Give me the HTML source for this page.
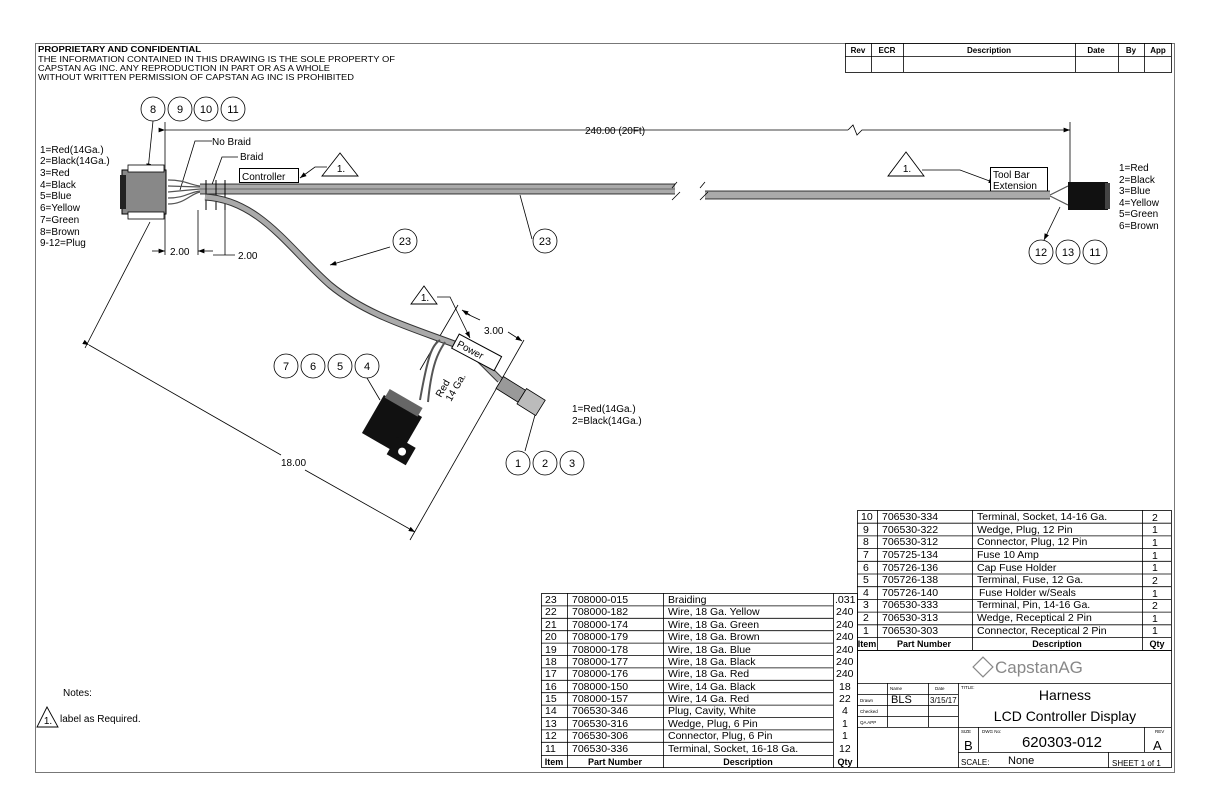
<!DOCTYPE html>
<html><head><meta charset="utf-8"><style>
html,body{margin:0;padding:0;background:#fff}
svg{display:block}
text{font-family:"Liberation Sans",sans-serif;fill:#000}
</style></head><body>
<svg width="1224" height="792" viewBox="0 0 1224 792" xmlns="http://www.w3.org/2000/svg">
<defs><marker id="a" markerWidth="8" markerHeight="6" refX="8" refY="3" orient="auto"><path d="M0,0L8,3L0,6z" fill="#000"/></marker></defs>
<rect x="35.5" y="43.5" width="1139" height="729" fill="none" stroke="#777" stroke-width="1"/>
<!-- header text -->
<text x="38" y="52" font-size="8" font-weight="bold" textLength="163" lengthAdjust="spacingAndGlyphs">PROPRIETARY AND CONFIDENTIAL</text>
<text x="38" y="62" font-size="8.5" textLength="357" lengthAdjust="spacingAndGlyphs">THE INFORMATION CONTAINED IN THIS DRAWING IS THE SOLE PROPERTY OF</text>
<text x="38" y="71" font-size="8.5" textLength="292" lengthAdjust="spacingAndGlyphs">CAPSTAN AG INC. ANY REPRODUCTION IN PART OR AS A WHOLE</text>
<text x="38" y="80" font-size="8.5" textLength="316" lengthAdjust="spacingAndGlyphs">WITHOUT WRITTEN PERMISSION OF CAPSTAN AG INC IS PROHIBITED</text>
<!-- rev table -->
<g stroke="#000" stroke-width="0.8" fill="none">
<rect x="845.5" y="43.5" width="326" height="29"/>
<line x1="845" y1="56.5" x2="1171" y2="56.5"/>
<line x1="871.5" y1="43" x2="871.5" y2="72"/><line x1="903.5" y1="43" x2="903.5" y2="72"/>
<line x1="1075.5" y1="43" x2="1075.5" y2="72"/><line x1="1118.5" y1="43" x2="1118.5" y2="72"/><line x1="1144.5" y1="43" x2="1144.5" y2="72"/>
</g>
<g font-size="8" font-weight="bold" text-anchor="middle">
<text x="858" y="53">Rev</text><text x="887" y="53">ECR</text><text x="989" y="53">Description</text><text x="1096" y="53">Date</text><text x="1131" y="53">By</text><text x="1158" y="53">App</text></g>
<!-- balloons -->
<g fill="#fff" stroke="#000" stroke-width="0.8">
<circle cx="153" cy="109" r="12"/><circle cx="180" cy="109" r="12"/><circle cx="206" cy="109" r="12"/><circle cx="233" cy="109" r="12"/>
<circle cx="1041" cy="252" r="12"/><circle cx="1068" cy="252" r="12"/><circle cx="1095" cy="252" r="12"/>
<circle cx="286" cy="366" r="12"/><circle cx="313" cy="366" r="12"/><circle cx="340" cy="366" r="12"/><circle cx="367" cy="366" r="12"/>
<circle cx="518" cy="463" r="12"/><circle cx="545" cy="463" r="12"/><circle cx="572" cy="463" r="12"/>
<circle cx="405" cy="241" r="12"/><circle cx="545" cy="241" r="12"/>
</g>
<g font-size="11" text-anchor="middle">
<text x="153" y="113">8</text><text x="180" y="113">9</text><text x="206" y="113">10</text><text x="233" y="113">11</text>
<text x="1041" y="256">12</text><text x="1068" y="256">13</text><text x="1095" y="256">11</text>
<text x="286" y="370">7</text><text x="313" y="370">6</text><text x="340" y="370">5</text><text x="367" y="370">4</text>
<text x="518" y="467">1</text><text x="545" y="467">2</text><text x="572" y="467">3</text>
<text x="405" y="245">23</text><text x="545" y="245">23</text>
</g>
<!-- dimension 240 -->
<g stroke="#000" stroke-width="0.8" fill="none">
<line x1="165" y1="122" x2="165" y2="200"/>
<line x1="165" y1="130" x2="848" y2="130" marker-start="url(#a)"/>
<polyline points="848,130 853,125 857,135 862,130 1070,130" marker-end="url(#a)"/>
<line x1="1070" y1="122" x2="1070" y2="185"/>
<line x1="153" y1="121" x2="148" y2="170" marker-end="url(#a)"/>
<line x1="1060" y1="207" x2="1044" y2="240" marker-end="url(#a)"/>
<line x1="165" y1="210" x2="165" y2="255"/><line x1="198" y1="210" x2="198" y2="255"/><line x1="225" y1="210" x2="225" y2="255"/>
<line x1="152" y1="251" x2="165" y2="251" marker-end="url(#a)"/>
<line x1="213" y1="251" x2="198" y2="251" marker-end="url(#a)"/>
<line x1="213" y1="255" x2="235" y2="255"/>
<polyline points="212,141 195,141 180,190"/>
<polyline points="238,157 222,157 210,190"/>
<polyline points="327,167 315,167 300,178" marker-end="url(#a)"/>
<polyline points="922,170 960,170 995,183" marker-end="url(#a)"/>
<line x1="390" y1="247" x2="330" y2="265" marker-end="url(#a)"/>
<line x1="532" y1="239" x2="520" y2="195"/>
<polyline points="437,297 450,297 470,338" marker-end="url(#a)"/>
<line x1="367" y1="378" x2="380" y2="400"/>
<line x1="525" y1="451" x2="535" y2="415"/>
<line x1="150" y1="222" x2="85" y2="348"/>
<line x1="89" y1="345" x2="281" y2="455" marker-start="url(#a)"/>
<line x1="305" y1="470" x2="415" y2="532" marker-end="url(#a)"/>
<line x1="524" y1="340" x2="410" y2="540"/>
<line x1="458" y1="305" x2="420" y2="370"/>
<line x1="465" y1="313" x2="480" y2="320"/>
<line x1="508" y1="332" x2="522" y2="341" marker-end="url(#a)"/>
<line x1="470" y1="315" x2="462" y2="310" marker-end="url(#a)"/>
</g>
<text x="585" y="134" font-size="10">240.00 (20Ft)</text>
<text x="170" y="255" font-size="10">2.00</text><text x="238" y="259" font-size="10">2.00</text>
<text x="281" y="466" font-size="10">18.00</text>
<text x="484" y="334" font-size="10">3.00</text>
<text x="212" y="145" font-size="10">No Braid</text>
<text x="240" y="160" font-size="10">Braid</text>
<!-- triangles -->
<g fill="#fff" stroke="#000" stroke-width="0.9">
<polygon points="340,153 322,176 358,176"/><polygon points="906,152 888,176 924,176"/><polygon points="424,286 411,304 437,304"/><polygon points="47,707 37,727 58,727"/>
</g>
<g font-size="10" text-anchor="middle"><text x="341" y="172">1.</text><text x="907" y="172">1.</text><text x="425" y="301">1.</text><text x="48" y="724">1.</text></g>
<!-- label boxes -->
<rect x="239.5" y="168.5" width="59" height="14" fill="#fff" stroke="#000"/>
<text x="242" y="180" font-size="10">Controller</text>
<rect x="990.5" y="167.5" width="57" height="25" fill="#fff" stroke="#000"/>
<text x="993" y="178" font-size="10">Tool Bar</text><text x="993" y="189" font-size="10">Extension</text>
<!-- main harness -->
<g stroke="#555" stroke-width="1.2" fill="none">
<path d="M168,180 C185,180 190,185 200,186"/><path d="M168,186 L200,187"/><path d="M168,192 L200,189"/><path d="M168,198 C185,198 190,192 200,191"/><path d="M168,204 C185,204 190,194 200,192"/>
<line x1="1050" y1="195" x2="1068" y2="186"/><line x1="1050" y1="196" x2="1068" y2="205"/>
</g>
<rect x="200" y="184" width="475" height="10" fill="#aaa"/>
<line x1="200" y1="184" x2="675" y2="184" stroke="#000" stroke-width="0.8"/>
<line x1="200" y1="194" x2="675" y2="194" stroke="#000" stroke-width="0.8"/>
<line x1="200" y1="189" x2="675" y2="189" stroke="#666" stroke-width="1"/>
<rect x="705" y="191" width="345" height="8" fill="#aaa"/>
<line x1="705" y1="191" x2="1050" y2="191" stroke="#000" stroke-width="0.8"/>
<line x1="705" y1="199" x2="1050" y2="199" stroke="#000" stroke-width="0.8"/>
<g stroke="#000" stroke-width="0.8" fill="none"><path d="M672,188 l5,-6 M672,200 l8,-8 M700,188 l5,-6 M700,200 l8,-8"/></g>
<g stroke="#000" stroke-width="1"><line x1="206" y1="180" x2="206" y2="210"/><line x1="216" y1="180" x2="216" y2="210"/><line x1="225" y1="180" x2="225" y2="210"/></g>
<!-- branch cable -->
<path d="M205,197 C260,200 290,250 330,285 C370,318 420,330 470,350 L500,380" stroke="#333" stroke-width="7" fill="none"/>
<path d="M205,197 C260,200 290,250 330,285 C370,318 420,330 470,350 L500,380" stroke="#aaa" stroke-width="5" fill="none"/>
<path d="M440,340 C432,345 428,355 420,400 M445,342 C440,350 432,360 428,402" stroke="#555" stroke-width="2" fill="none"/>
<g transform="translate(515,392) rotate(32)">
<rect x="-18" y="-7" width="26" height="14" fill="#999" stroke="#000" stroke-width="0.8"/>
<rect x="8" y="-9" width="22" height="18" fill="#bbb" stroke="#000" stroke-width="0.8"/>
</g>
<g transform="translate(392,425) rotate(30)">
<rect x="-22" y="-22" width="44" height="44" fill="#111"/>
<rect x="10" y="8" width="22" height="20" fill="#111"/>
<circle cx="22" cy="18" r="4" fill="#fff"/>
<rect x="-20" y="-30" width="38" height="10" fill="#666"/>
</g>
<text transform="translate(441,398) rotate(-60)" font-size="10">Red</text>
<text transform="translate(451,402) rotate(-60)" font-size="10">14 Ga.</text>
<g transform="translate(470,350) rotate(28)"><rect x="-17" y="-9" width="48" height="16" fill="#fff" stroke="#000"/><text x="-14" y="3" font-size="10">Power</text></g>
<rect x="122" y="170" width="44" height="44" fill="#888" stroke="#000"/>
<rect x="120" y="175" width="6" height="34" fill="#222"/>
<rect x="128" y="165" width="36" height="7" fill="#fff" stroke="#000" stroke-width="0.8"/>
<rect x="128" y="212" width="36" height="7" fill="#fff" stroke="#000" stroke-width="0.8"/>
<rect x="1068" y="182" width="40" height="28" fill="#111"/>
<rect x="1105" y="183" width="5" height="26" fill="#444"/>
<g font-size="10">
<text x="40" y="153">1=Red(14Ga.)</text><text x="40" y="164">2=Black(14Ga.)</text><text x="40" y="176">3=Red</text><text x="40" y="188">4=Black</text><text x="40" y="199">5=Blue</text><text x="40" y="211">6=Yellow</text><text x="40" y="223">7=Green</text><text x="40" y="235">8=Brown</text><text x="40" y="246">9-12=Plug</text>
<text x="1119" y="171">1=Red</text><text x="1119" y="183">2=Black</text><text x="1119" y="194">3=Blue</text><text x="1119" y="206">4=Yellow</text><text x="1119" y="217">5=Green</text><text x="1119" y="229">6=Brown</text>
<text x="572" y="412">1=Red(14Ga.)</text><text x="572" y="424">2=Black(14Ga.)</text>
<text x="63" y="696">Notes:</text><text x="60" y="722">label as Required.</text>
</g>
<!-- left BOM -->
<g stroke="#000" stroke-width="0.8" fill="none">
<rect x="541.5" y="593.5" width="316" height="174"/>
<line x1="567.5" y1="593" x2="567.5" y2="768"/><line x1="663.5" y1="593" x2="663.5" y2="768"/><line x1="833.5" y1="593" x2="833.5" y2="768"/>
<path d="M541,605.9h292M541,618.3h292M541,630.7h292M541,643.1h292M541,655.5h292M541,667.9h292M541,680.3h292M541,692.7h292M541,705.1h292M541,717.5h292M541,729.9h292M541,742.3h292M541,755.5h292"/>
</g>
<g font-size="10.5">
<text x="545" y="603">23</text><text x="572" y="603">708000-015</text><text x="668" y="603">Braiding</text><text x="835" y="603">.031</text>
<text x="545" y="615">22</text><text x="572" y="615">708000-182</text><text x="668" y="615">Wire, 18 Ga. Yellow</text><text x="836" y="615">240</text>
<text x="545" y="628">21</text><text x="572" y="628">708000-174</text><text x="668" y="628">Wire, 18 Ga. Green</text><text x="836" y="628">240</text>
<text x="545" y="640">20</text><text x="572" y="640">708000-179</text><text x="668" y="640">Wire, 18 Ga. Brown</text><text x="836" y="640">240</text>
<text x="545" y="653">19</text><text x="572" y="653">708000-178</text><text x="668" y="653">Wire, 18 Ga. Blue</text><text x="836" y="653">240</text>
<text x="545" y="665">18</text><text x="572" y="665">708000-177</text><text x="668" y="665">Wire, 18 Ga. Black</text><text x="836" y="665">240</text>
<text x="545" y="677">17</text><text x="572" y="677">708000-176</text><text x="668" y="677">Wire, 18 Ga. Red</text><text x="836" y="677">240</text>
<text x="545" y="690">16</text><text x="572" y="690">708000-150</text><text x="668" y="690">Wire, 14 Ga. Black</text><text x="839" y="690">18</text>
<text x="545" y="702">15</text><text x="572" y="702">708000-157</text><text x="668" y="702">Wire, 14 Ga. Red</text><text x="839" y="702">22</text>
<text x="545" y="714">14</text><text x="572" y="714">706530-346</text><text x="668" y="714">Plug, Cavity, White</text><text x="842" y="714">4</text>
<text x="545" y="727">13</text><text x="572" y="727">706530-316</text><text x="668" y="727">Wedge, Plug, 6 Pin</text><text x="842" y="727">1</text>
<text x="545" y="739">12</text><text x="572" y="739">706530-306</text><text x="668" y="739">Connector, Plug, 6 Pin</text><text x="842" y="739">1</text>
<text x="545" y="752">11</text><text x="572" y="752">706530-336</text><text x="668" y="752">Terminal, Socket, 16-18 Ga.</text><text x="839" y="752">12</text>
</g>
<g font-size="9" font-weight="bold" text-anchor="middle"><text x="554" y="765">Item</text><text x="615" y="765">Part Number</text><text x="748" y="765">Description</text><text x="845" y="765">Qty</text></g>
<!-- right BOM -->
<g stroke="#000" stroke-width="0.8" fill="none">
<rect x="857.5" y="510.5" width="314" height="140"/>
<line x1="877.5" y1="510" x2="877.5" y2="650"/><line x1="972.5" y1="510" x2="972.5" y2="650"/><line x1="1142.5" y1="510" x2="1142.5" y2="650"/>
<path d="M857,523.2h314M857,535.9h314M857,548.6h314M857,561.3h314M857,574h314M857,586.7h314M857,599.4h314M857,612.1h314M857,624.8h314M857,637.5h314"/>
<rect x="857.5" y="650.5" width="314" height="117"/>
<line x1="857" y1="683.5" x2="1171" y2="683.5"/>
<line x1="958.5" y1="683" x2="958.5" y2="768"/>
<line x1="887.5" y1="683" x2="887.5" y2="727"/><line x1="928.5" y1="683" x2="928.5" y2="727"/>
<path d="M857,694.5h101M857,705.5h101M857,716.5h101M857,727.5h101"/>
<line x1="958" y1="727.5" x2="1171" y2="727.5"/><line x1="958" y1="752.5" x2="1171" y2="752.5"/>
<line x1="978.5" y1="727" x2="978.5" y2="752"/><line x1="1144.5" y1="727" x2="1144.5" y2="752"/><line x1="1108.5" y1="752" x2="1108.5" y2="768"/>
</g>
<g font-size="10.5">
<text x="861" y="520">10</text><text x="882" y="520">706530-334</text><text x="977" y="520">Terminal, Socket, 14-16 Ga.</text><text x="1152" y="521">2</text>
<text x="863" y="533">9</text><text x="882" y="533">706530-322</text><text x="977" y="533">Wedge, Plug, 12 Pin</text><text x="1152" y="533">1</text>
<text x="863" y="545">8</text><text x="882" y="545">706530-312</text><text x="977" y="545">Connector, Plug, 12 Pin</text><text x="1152" y="546">1</text>
<text x="863" y="558">7</text><text x="882" y="558">705725-134</text><text x="977" y="558">Fuse 10 Amp</text><text x="1152" y="559">1</text>
<text x="863" y="571">6</text><text x="882" y="571">705726-136</text><text x="977" y="571">Cap Fuse Holder</text><text x="1152" y="571">1</text>
<text x="863" y="583">5</text><text x="882" y="583">705726-138</text><text x="977" y="583">Terminal, Fuse, 12 Ga.</text><text x="1152" y="584">2</text>
<text x="863" y="596">4</text><text x="882" y="596">705726-140</text><text x="979" y="596">Fuse Holder w/Seals</text><text x="1152" y="597">1</text>
<text x="863" y="608">3</text><text x="882" y="608">706530-333</text><text x="977" y="608">Terminal, Pin, 14-16 Ga.</text><text x="1152" y="609">2</text>
<text x="863" y="621">2</text><text x="882" y="621">706530-313</text><text x="977" y="621">Wedge, Receptical 2 Pin</text><text x="1152" y="622">1</text>
<text x="863" y="634">1</text><text x="882" y="634">706530-303</text><text x="977" y="634">Connector, Receptical 2 Pin</text><text x="1152" y="634">1</text>
</g>
<g font-size="9" font-weight="bold" text-anchor="middle"><text x="867" y="647">Item</text><text x="924" y="647">Part Number</text><text x="1057" y="647">Description</text><text x="1157" y="647">Qty</text></g>
<g transform="translate(983,667) rotate(45)"><rect x="-7" y="-7" width="14" height="14" fill="none" stroke="#888" stroke-width="1.2"/></g>
<text x="995" y="673" font-size="17" style="fill:#888">CapstanAG</text>
<g font-size="4.5"><text x="890" y="690">Name</text><text x="935" y="690">Date</text><text x="961" y="689">TITLE:</text><text x="860" y="702">Drawn</text><text x="860" y="713">Checked</text><text x="860" y="724">QA APP</text><text x="961" y="733">SIZE</text><text x="982" y="733">DWG No:</text><text x="1155" y="733">REV</text></g>
<text x="891" y="703" font-size="11">BLS</text><text x="930" y="703" font-size="8">3/15/17</text>
<text x="1065" y="700" font-size="14" text-anchor="middle">Harness</text>
<text x="1065" y="721" font-size="14" text-anchor="middle">LCD Controller Display</text>
<text x="964" y="750" font-size="13">B</text><text x="1062" y="747" font-size="15" text-anchor="middle">620303-012</text><text x="1153" y="750" font-size="13">A</text>
<text x="961" y="765" font-size="8">SCALE:</text><text x="1008" y="764" font-size="11">None</text><text x="1112" y="766" font-size="8">SHEET 1 of 1</text>
</svg>
</body></html>
